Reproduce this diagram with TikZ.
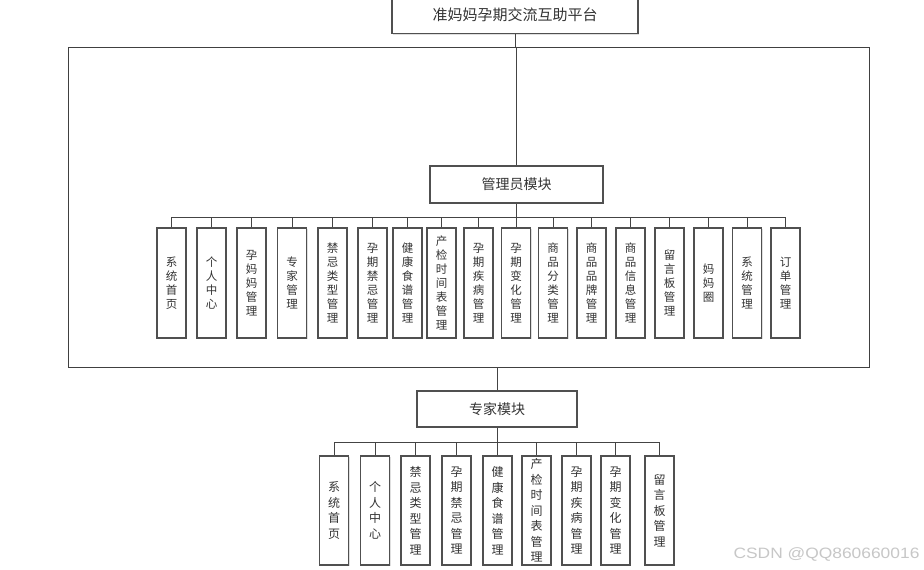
\documentclass[tikz,border=0pt]{standalone}
\usepackage{fontspec}
\setmainfont{Noto Sans CJK SC}
\newfontfamily\wmfont{Liberation Sans}
\usetikzlibrary{shadows}
\definecolor{boxline}{HTML}{505050}
\definecolor{txt}{HTML}{333333}
\begin{document}
\begin{tikzpicture}[x=1pt,y=-1pt,
  box/.style={draw=boxline,line width=1.1pt,fill=white,inner sep=0pt,text=txt,
    drop shadow={opacity=0.25,shadow xshift=1pt,shadow yshift=-1pt}},
  leafA/.style={box,minimum width=29pt,minimum height=110pt,align=center,
    font=\fontsize{11.5}{14}\selectfont},
  leafB/.style={box,minimum width=29pt,minimum height=109pt,align=center,
    font=\fontsize{12}{15.5}\selectfont},
  conn/.style={draw=boxline!85!black,line width=0.9pt}]
\useasboundingbox (0,0) rectangle (924,570);
\clip (0,0) rectangle (924,570);
\fill[white] (0,0) rectangle (924,570);
% root
\node[box,minimum width=246pt,minimum height=38pt,font=\fontsize{15}{18}\selectfont] (root) at (515,14.5) {准妈妈孕期交流互助平台};
% frame
\node[draw=boxline!80!black,line width=0.7pt,minimum width=801pt,minimum height=320pt,inner sep=0pt] (frame) at (468.5,207) {};
% admin module
\node[box,minimum width=173pt,minimum height=37pt,font=\fontsize{14}{17}\selectfont] (adm) at (516.5,184.5) {管理员模块};
\draw[conn] (root.south) -- (root.south |- frame.north);
\draw[conn] (adm.north |- frame.north) -- (adm.north);
\coordinate (busA) at (516.5,217);
\draw[conn] (adm.south) -- (busA);
\foreach \x/\t [count=\i] in {
  171.5/{系\\统\\首\\页},
  211.5/{个\\人\\中\\心},
  251.5/{孕\\妈\\妈\\管\\理},
  292/{专\\家\\管\\理},
  332.5/{禁\\忌\\类\\型\\管\\理},
  372.5/{孕\\期\\禁\\忌\\管\\理},
  407.5/{健\\康\\食\\谱\\管\\理},
  441.5/{产\\检\\时\\间\\表\\管\\理},
  478.5/{孕\\期\\疾\\病\\管\\理},
  516/{孕\\期\\变\\化\\管\\理},
  553/{商\\品\\分\\类\\管\\理},
  591.5/{商\\品\\品\\牌\\管\\理},
  630.5/{商\\品\\信\\息\\管\\理},
  669.5/{留\\言\\板\\管\\理},
  708.5/{妈\\妈\\圈},
  747/{系\\统\\管\\理},
  785.5/{订\\单\\管\\理}} {
  \node[leafA] (a\i) at (\x,283) {\t};
  \draw[conn] (a\i.north |- busA) -- (a\i.north);
}
\draw[conn] (a1.north |- busA) -- (a17.north |- busA);
% expert module
\node[box,minimum width=160pt,minimum height=36pt,font=\fontsize{14}{17}\selectfont] (exp) at (497,409) {专家模块};
\draw[conn] (exp.north |- frame.south) -- (exp.north);
\coordinate (busB) at (497,442);
\draw[conn] (exp.south) -- (busB);
\foreach \x/\t [count=\i] in {
  334/{系\\统\\首\\页},
  375/{个\\人\\中\\心},
  415.5/{禁\\忌\\类\\型\\管\\理},
  456.5/{孕\\期\\禁\\忌\\管\\理},
  497.5/{健\\康\\食\\谱\\管\\理},
  536.5/{产\\检\\时\\间\\表\\管\\理},
  576.5/{孕\\期\\疾\\病\\管\\理},
  615.5/{孕\\期\\变\\化\\管\\理},
  659.5/{留\\言\\板\\管\\理}} {
  \node[leafB] (b\i) at (\x,510.5) {\t};
  \draw[conn] (b\i.north |- busB) -- (b\i.north);
}
\draw[conn] (b1.north |- busB) -- (b9.north |- busB);
% watermark
\node[text=black!22,font=\wmfont\fontsize{15}{15}\selectfont,inner sep=0pt,xscale=1.16] (wm) at (826.5,554) {CSDN @QQ860660016};
\end{tikzpicture}
\end{document}
